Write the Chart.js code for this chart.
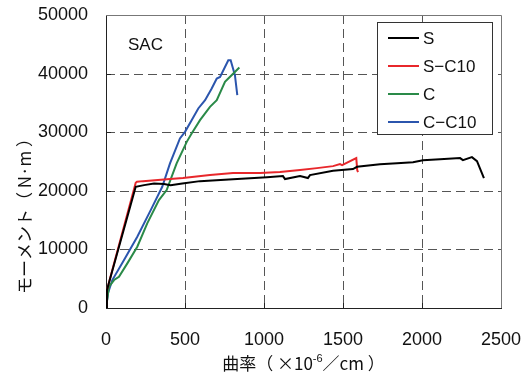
<!DOCTYPE html>
<html>

<head>
  <title>SAC moment-curvature</title>
  <script src="https://cdn.jsdelivr.net/npm/chart.js"></script>
  <style>
    body {
      margin: 0;
      background: #fff;
    }

    .chart-container {
      width: 524px;
      height: 381px;
    }
  </style>
</head>

<body>
  <div class="chart-container">
    <canvas id="chart" width="524" height="381"></canvas>
  </div>
  <script>
    const seriesNames = ['S', 'S\u2212C10', 'C', 'C\u2212C10'];
    const seriesColors = ['#000000', '#e8272b', '#2a8a48', '#2b55ad'];

    // curvature (x10^-6/cm) / moment (N·m)
    const sCurv = [0, 6, 188, 241, 304, 367, 409, 483, 595, 804, 1019, 1120, 1133, 1228, 1278, 1291, 1437, 1563, 1589, 1734, 1842, 1943, 2006, 2114, 2241, 2259, 2316, 2348, 2392];
    const sMoment = [0, 3070, 20680, 20970, 21260, 21140, 20970, 21260, 21650, 21990, 22330, 22510, 22000, 22510, 22170, 22680, 23410, 23700, 24090, 24550, 24720, 24890, 25230, 25400, 25580, 25230, 25750, 25060, 22170];

    const sc10Curv = [0, 6, 188, 196, 234, 386, 487, 658, 804, 975, 1101, 1228, 1335, 1437, 1481, 1494, 1584, 1590, 1595];
    const sc10Moment = [0, 3070, 21360, 21530, 21650, 21990, 22170, 22680, 23020, 23020, 23190, 23530, 23870, 24210, 24550, 24380, 25580, 23530, 23190];

    const cCurv = [0, 19, 51, 82, 135, 198, 261, 335, 384, 447, 511, 542, 595, 658, 701, 753, 774, 806, 844];
    const cMoment = [0, 3630, 4770, 5340, 7620, 10450, 14440, 18410, 20120, 24670, 28350, 29790, 32050, 34320, 35460, 38580, 39160, 40020, 41040];

    const cc10Curv = [0, 13, 40, 114, 198, 283, 356, 405, 468, 500, 542, 584, 627, 669, 701, 722, 774, 789, 816, 831];
    const cc10Moment = [0, 2560, 4770, 8180, 12160, 16710, 20680, 24670, 28930, 30060, 32050, 34050, 35460, 37460, 39160, 39440, 42280, 42280, 39730, 36320];

    const xTicks = [0, 500, 1000, 1500, 2000, 2500];
    const yTicks = [0, 10000, 20000, 30000, 40000, 50000];

    const FONT = '"Liberation Sans", "Noto Sans CJK JP", sans-serif';
    const JP_FONT = '"Noto Sans CJK JP", sans-serif';

    function toPoints(xs, ys) {
      return xs.map((x, i) => ({ x: x, y: ys[i] }));
    }

    const allSeries = [
      toPoints(sCurv, sMoment),
      toPoints(sc10Curv, sc10Moment),
      toPoints(cCurv, cMoment),
      toPoints(cc10Curv, cc10Moment)
    ];

    function noPad(s) {
      s.paddingTop = 0;
      s.paddingBottom = 0;
      s.paddingLeft = 0;
      s.paddingRight = 0;
    }

    // dashed grid + small inward ticks, drawn under the lines
    const dashedGrid = {
      id: 'dashedGrid',
      beforeDatasetsDraw(chart) {
        const { ctx, chartArea: a, scales } = chart;
        ctx.save();
        ctx.strokeStyle = '#555';
        ctx.lineWidth = 1;
        ctx.setLineDash([9, 5]);
        xTicks.slice(1, -1).forEach(v => {
          const px = Math.round(scales.x.getPixelForValue(v)) + 0.5;
          ctx.beginPath();
          ctx.moveTo(px, a.top);
          ctx.lineTo(px, a.bottom);
          ctx.stroke();
        });
        yTicks.slice(1, -1).forEach(v => {
          const py = Math.round(scales.y.getPixelForValue(v)) + 0.5;
          ctx.beginPath();
          ctx.moveTo(a.left, py);
          ctx.lineTo(a.right, py);
          ctx.stroke();
        });
        ctx.setLineDash([]);
        ctx.strokeStyle = '#222';
        xTicks.forEach(v => {
          const px = Math.round(scales.x.getPixelForValue(v)) + 0.5;
          ctx.beginPath();
          ctx.moveTo(px, a.bottom);
          ctx.lineTo(px, a.bottom - 5);
          ctx.stroke();
        });
        yTicks.forEach(v => {
          const py = Math.round(scales.y.getPixelForValue(v)) + 0.5;
          ctx.beginPath();
          ctx.moveTo(a.left, py);
          ctx.lineTo(a.left + 5, py);
          ctx.stroke();
        });
        ctx.restore();
      }
    };

    // axis titles, inner label, legend box and frame
    const decorations = {
      id: 'decorations',
      afterDatasetsDraw(chart) {
        const { ctx, chartArea: a } = chart;
        ctx.save();

        // SAC label
        ctx.fillStyle = '#111';
        ctx.font = '17px ' + FONT;
        ctx.textAlign = 'left';
        ctx.textBaseline = 'middle';
        ctx.fillText('SAC', a.left + 22, a.top + 30);

        // legend
        const bx = a.right - 124, by = a.top + 7, bw = 115, bh = 112;
        ctx.fillStyle = '#fff';
        ctx.fillRect(bx, by, bw, bh);
        ctx.strokeStyle = '#333';
        ctx.lineWidth = 1;
        ctx.strokeRect(bx + 0.5, by + 0.5, bw, bh);
        ctx.font = '17px ' + FONT;
        chart.data.datasets.forEach((ds, i) => {
          const yy = by + 16 + i * 28;
          ctx.strokeStyle = ds.borderColor;
          ctx.lineWidth = 2;
          ctx.beginPath();
          ctx.moveTo(bx + 11, yy);
          ctx.lineTo(bx + 42, yy);
          ctx.stroke();
          ctx.fillStyle = '#111';
          ctx.fillText(ds.label, bx + 46, yy + 1);
        });

        // frame (top / right)
        ctx.strokeStyle = '#777';
        ctx.lineWidth = 1;
        ctx.beginPath();
        ctx.moveTo(a.left, a.top + 0.5);
        ctx.lineTo(a.right + 0.5, a.top + 0.5);
        ctx.lineTo(a.right + 0.5, a.bottom);
        ctx.stroke();

        // x title with superscript
        ctx.fillStyle = '#111';
        ctx.textBaseline = 'alphabetic';
        const parts = [
          { t: '曲率（ ×10', f: '17px ' + JP_FONT, dy: 0 },
          { t: '-6', f: '11px ' + FONT, dy: -8 },
          { t: '／cm ）', f: '17px ' + JP_FONT, dy: 0 }
        ];
        let total = 0;
        parts.forEach(p => { ctx.font = p.f; p.w = ctx.measureText(p.t).width; total += p.w; });
        let tx = (a.left + a.right) / 2 - total / 2;
        const ty = 370;
        ctx.textAlign = 'left';
        parts.forEach(p => {
          ctx.font = p.f;
          ctx.fillText(p.t, tx, ty + p.dy);
          tx += p.w;
        });

        // y title
        ctx.translate(25, 212);
        ctx.rotate(-Math.PI / 2);
        ctx.font = '17px ' + JP_FONT;
        ctx.textAlign = 'center';
        ctx.textBaseline = 'middle';
        ctx.fillText('モーメント（ N·m ）', 0, 0);

        ctx.restore();
      }
    };

    const ctx = document.getElementById('chart').getContext('2d');
    new Chart(ctx, {
      type: 'line',
      data: {
        datasets: allSeries.map((pts, i) => ({
          label: seriesNames[i],
          data: pts,
          borderColor: seriesColors[i],
          backgroundColor: seriesColors[i],
          borderWidth: 2,
          pointRadius: 0,
          tension: 0,
          fill: false
        }))
      },
      options: {
        responsive: false,
        animation: false,
        layout: {
          padding: { top: 15, right: 23, left: 0, bottom: 0 }
        },
        plugins: {
          legend: { display: false },
          tooltip: { enabled: false }
        },
        scales: {
          x: {
            type: 'linear',
            min: 0,
            max: 2500,
            afterBuildTicks: s => { s.ticks = xTicks.map(v => ({ value: v })); },
            afterFit: s => { s.height = 73; noPad(s); },
            ticks: {
              color: '#111',
              padding: 21,
              font: { family: FONT, size: 18 },
              callback: v => String(v)
            },
            grid: { display: false, drawTicks: false },
            border: { color: '#222', width: 1 }
          },
          y: {
            min: 0,
            max: 50000,
            afterBuildTicks: s => { s.ticks = yTicks.map(v => ({ value: v })); },
            afterFit: s => { s.width = 106; noPad(s); },
            ticks: {
              color: '#111',
              padding: 18,
              font: { family: FONT, size: 18 },
              callback: v => String(v)
            },
            grid: { display: false, drawTicks: false },
            border: { color: '#222', width: 1 }
          }
        }
      },
      plugins: [dashedGrid, decorations]
    });
  </script>
</body>

</html>
